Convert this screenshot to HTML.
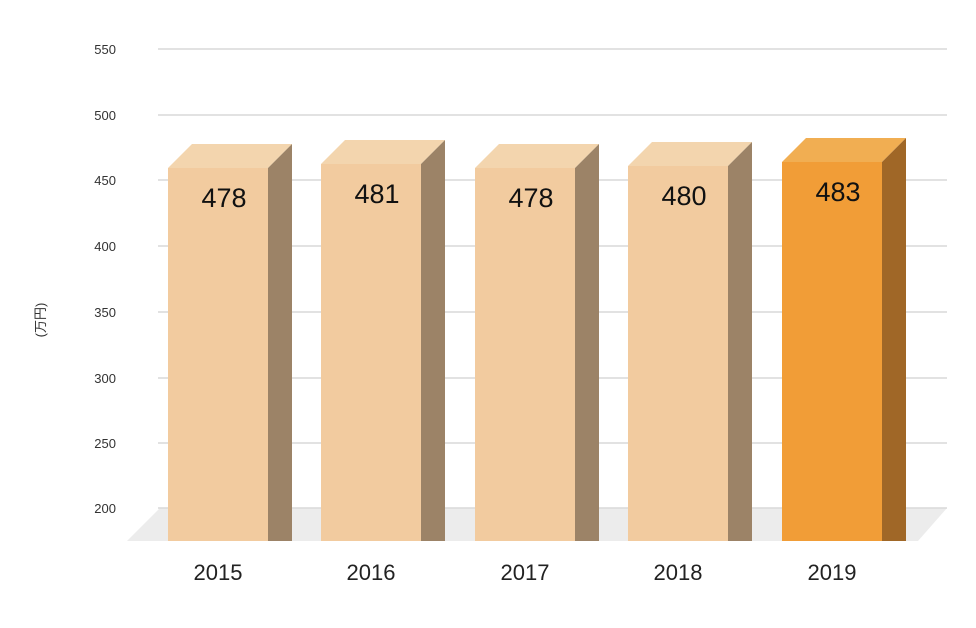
<!DOCTYPE html>
<html><head><meta charset="utf-8"><style>
body{margin:0;background:#fff}
svg{display:block}
text{font-family:"Liberation Sans","Noto Sans CJK JP",sans-serif}
</style></head><body>
<svg width="976" height="628" viewBox="0 0 976 628">
<polygon points="160,508 947,508 918,541 127,541" fill="#ececec"/>
<g stroke="#d9d9d9" stroke-width="1.5">
<line x1="158" y1="49" x2="947" y2="49"/>
<line x1="158" y1="115" x2="947" y2="115"/>
<line x1="158" y1="180" x2="947" y2="180"/>
<line x1="158" y1="246" x2="947" y2="246"/>
<line x1="158" y1="312" x2="947" y2="312"/>
<line x1="158" y1="378" x2="947" y2="378"/>
<line x1="158" y1="443" x2="947" y2="443"/>
<line x1="158" y1="508" x2="947" y2="508"/>
</g>
<g font-size="13" fill="#333" text-anchor="end">
<text x="116" y="54">550</text><text x="116" y="120">500</text><text x="116" y="185">450</text><text x="116" y="251">400</text><text x="116" y="317">350</text><text x="116" y="383">300</text><text x="116" y="448">250</text><text x="116" y="513">200</text>
</g>
<text transform="translate(45,320) rotate(-90)" font-size="13" fill="#333" text-anchor="middle">(万円)</text>
<g id="bars">
<!-- x, top -->
<polygon points="168,168 192,144 292,144 268,168" fill="#f3d5ae"/><rect x="168" y="168" width="100" height="373" fill="#f2cb9f"/><polygon points="268,168 292,144 292,541 268,541" fill="#9c8367"/>
<polygon points="321,164 345,140 445,140 421,164" fill="#f3d5ae"/><rect x="321" y="164" width="100" height="377" fill="#f2cb9f"/><polygon points="421,164 445,140 445,541 421,541" fill="#9c8367"/>
<polygon points="475,168 499,144 599,144 575,168" fill="#f3d5ae"/><rect x="475" y="168" width="100" height="373" fill="#f2cb9f"/><polygon points="575,168 599,144 599,541 575,541" fill="#9c8367"/>
<polygon points="628,166 652,142 752,142 728,166" fill="#f3d5ae"/><rect x="628" y="166" width="100" height="375" fill="#f2cb9f"/><polygon points="728,166 752,142 752,541 728,541" fill="#9c8367"/>
<polygon points="782,162 806,138 906,138 882,162" fill="#f1ae52"/><rect x="782" y="162" width="100" height="379" fill="#f19d37"/><polygon points="882,162 906,138 906,541 882,541" fill="#a06727"/>
</g>
<g font-size="27" fill="#111" text-anchor="middle">
<text x="224" y="207">478</text><text x="377" y="203">481</text><text x="531" y="207">478</text><text x="684" y="205">480</text><text x="838" y="201">483</text>
</g>
<g font-size="22" fill="#222" text-anchor="middle">
<text x="218" y="580">2015</text><text x="371" y="580">2016</text><text x="525" y="580">2017</text><text x="678" y="580">2018</text><text x="832" y="580">2019</text>
</g>
</svg>
</body></html>
